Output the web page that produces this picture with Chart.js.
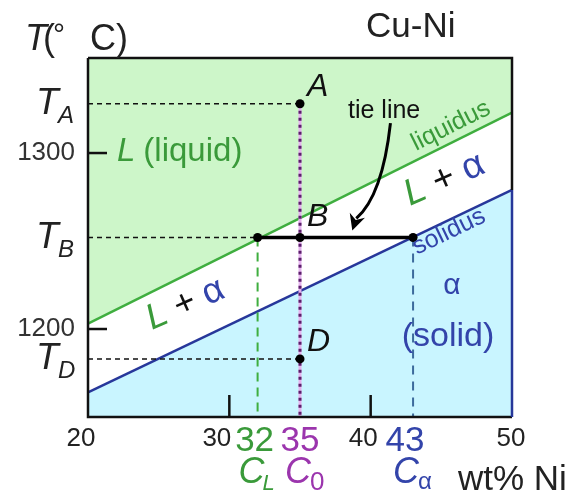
<!DOCTYPE html>
<html>
<head>
<meta charset="utf-8">
<script src="https://cdn.jsdelivr.net/npm/chart.js@4.4.1/dist/chart.umd.min.js"></script>
<style>
  html, body { margin: 0; padding: 0; background: #fff; }
  #wrap { width: 584px; height: 498px; }
</style>
</head>
<body>
<div id="wrap"><canvas id="phase"></canvas></div>
<script>
// DATA
const compRange = [20, 50];           // wt% Ni at the frame edges
const liquidusT = [1203, 1323];       // liquidus temperature at 20 and 50 wt% Ni
const solidusT = [1164, 1279];        // solidus temperature at 20 and 50 wt% Ni
const tempRange = [1150, 1354];
const tempTicks = [1200, 1300];
const compTicks = [20, 30, 40, 50];
const stateNames = ['A', 'B', 'D'];
const stateTemps = [1328, 1252, 1183]; // T_A, T_B, T_D
const alloyComp = 35;                  // C0
const liquidComp = 32;                 // CL
const solidComp = 43;                  // C alpha

const FONT = '"Liberation Sans", Arial, Helvetica, sans-serif';
const GREEN = '#3fae3f';
const GREEN_TXT = '#3a9a3a';
const BLUE = '#27379a';
const BLUE_TXT = '#3344aa';
const PURPLE = '#9b35ad';
const TB = stateTemps[1];

function seg(x0, y0, x1, y1) { return [{ x: x0, y: y0 }, { x: x1, y: y1 }]; }

const datasets = [
  // phase fields
  { label: 'liquidus', data: seg(compRange[0], liquidusT[0], compRange[1], liquidusT[1]),
    borderColor: GREEN, borderWidth: 2.5, fill: 'end', backgroundColor: '#cdf6c9', order: 20 },
  { label: 'solidus', data: seg(compRange[0], solidusT[0], compRange[1], solidusT[1]),
    borderColor: BLUE, borderWidth: 2.5, fill: 'start', backgroundColor: '#c9f5ff', order: 19 },
  // guide lines
  { label: 'TA', data: seg(compRange[0], stateTemps[0], alloyComp, stateTemps[0]),
    borderColor: '#111', borderWidth: 1.5, borderDash: [5, 4], order: 10 },
  { label: 'TB', data: seg(compRange[0], TB, liquidComp, TB),
    borderColor: '#111', borderWidth: 1.5, borderDash: [5, 4], order: 10 },
  { label: 'TD', data: seg(compRange[0], stateTemps[2], alloyComp, stateTemps[2]),
    borderColor: '#111', borderWidth: 1.5, borderDash: [5, 4], order: 10 },
  { label: 'C0 light', data: seg(alloyComp, stateTemps[0], alloyComp, tempRange[0]),
    borderColor: '#e6b3ef', borderWidth: 3, order: 9 },
  { label: 'C0', data: seg(alloyComp, stateTemps[0], alloyComp, tempRange[0]),
    borderColor: '#5b1f6b', borderWidth: 3, borderDash: [3, 4], order: 8 },
  { label: 'CL', data: seg(liquidComp, TB, liquidComp, tempRange[0]),
    borderColor: GREEN, borderWidth: 2, borderDash: [9, 6], order: 8 },
  { label: 'Calpha', data: seg(solidComp, TB, solidComp, tempRange[0]),
    borderColor: '#3c6a9c', borderWidth: 2, borderDash: [9, 7], order: 8 },
  // tie line
  { label: 'tie', data: seg(liquidComp, TB, solidComp, TB),
    borderColor: '#000', borderWidth: 3.5, order: 5 },
  // state points
  { label: 'points', showLine: false,
    data: [{ x: alloyComp, y: stateTemps[0] }, { x: alloyComp, y: TB }, { x: alloyComp, y: stateTemps[2] },
           { x: liquidComp, y: TB }, { x: solidComp, y: TB }],
    pointRadius: 4.5, pointBackgroundColor: '#000', pointBorderWidth: 0, order: 1 }
];
datasets.forEach(d => {
  if (d.showLine === undefined) d.showLine = true;
  if (d.pointRadius === undefined) d.pointRadius = 0;
  if (d.fill === undefined) d.fill = false;
});

function txt(ctx, s, x, y, size, color, opts = {}) {
  ctx.save();
  ctx.font = (opts.italic ? 'italic ' : '') + size + 'px ' + FONT;
  ctx.fillStyle = color;
  ctx.textAlign = opts.align || 'left';
  ctx.textBaseline = 'alphabetic';
  ctx.fillText(s, x, y);
  const w = ctx.measureText(s).width;
  ctx.restore();
  return w;
}

const decor = {
  id: 'decor',
  afterDatasetsDraw(chart) {
    const ctx = chart.ctx;
    const xs = chart.scales.x, ys = chart.scales.y;
    const a = chart.chartArea;
    const px = v => xs.getPixelForValue(v);
    const py = v => ys.getPixelForValue(v);

    // frame
    ctx.save();
    ctx.lineWidth = 2.5;
    ctx.strokeStyle = '#111';
    ctx.beginPath();
    ctx.moveTo(a.left, a.top); ctx.lineTo(a.right, a.top);
    ctx.lineTo(a.right, py(solidusT[1]));
    ctx.moveTo(a.left, a.top); ctx.lineTo(a.left, a.bottom); ctx.lineTo(a.right, a.bottom);
    ctx.stroke();
    ctx.strokeStyle = BLUE;
    ctx.beginPath();
    ctx.moveTo(a.right, py(solidusT[1])); ctx.lineTo(a.right, a.bottom);
    ctx.stroke();

    // inward tick marks
    ctx.strokeStyle = '#111';
    ctx.lineWidth = 2.5;
    tempTicks.forEach(t => {
      ctx.beginPath(); ctx.moveTo(a.left, py(t)); ctx.lineTo(a.left + 19, py(t)); ctx.stroke();
    });
    compTicks.slice(1, -1).forEach(c => {
      ctx.beginPath(); ctx.moveTo(px(c), a.bottom); ctx.lineTo(px(c), a.bottom - 22); ctx.stroke();
    });
    ctx.restore();

    // T_A, T_B, T_D on the temperature axis
    stateNames.forEach((n, i) => {
      const y = py(stateTemps[i]);
      txt(ctx, 'T', 36, y + 10, 37, '#222', { italic: true });
      txt(ctx, n, 58, y + 19, 24, '#222', { italic: true });
    });

    // composition labels
    const bx = a.bottom + 29;
    txt(ctx, '20', px(20) - 7, bx, 26, '#222', { align: 'center' });
    txt(ctx, '30', px(30) + 2, bx, 26, '#222', { align: 'right' });
    txt(ctx, '40', px(40) + 7, bx, 26, '#222', { align: 'right' });
    txt(ctx, '50', px(50) - 1, bx, 26, '#222', { align: 'center' });
    txt(ctx, String(liquidComp), px(liquidComp) - 3, a.bottom + 34, 35, GREEN_TXT, { align: 'center' });
    txt(ctx, String(alloyComp), px(alloyComp), a.bottom + 34, 35, PURPLE, { align: 'center' });
    txt(ctx, String(solidComp), px(solidComp) - 8, a.bottom + 34, 35, BLUE_TXT, { align: 'center' });

    const cy = a.bottom + 66;
    let w = txt(ctx, 'C', px(liquidComp) - 19, cy, 36, GREEN_TXT, { italic: true });
    txt(ctx, 'L', px(liquidComp) - 19 + w - 2, cy + 7, 22, GREEN_TXT, { italic: true });
    w = txt(ctx, 'C', px(alloyComp) - 15, cy, 36, PURPLE, { italic: true });
    txt(ctx, '0', px(alloyComp) - 15 + w - 1, cy + 7, 26, PURPLE);
    w = txt(ctx, 'C', px(solidComp) - 20, cy, 36, BLUE_TXT, { italic: true });
    txt(ctx, 'α', px(solidComp) - 20 + w - 1, cy + 6, 24, BLUE_TXT);
    txt(ctx, 'wt% Ni', 458, 490, 35, '#222');

    // header texts
    txt(ctx, 'T', 25, 50, 36, '#222', { italic: true });
    txt(ctx, '(', 43, 50, 36, '#222');
    txt(ctx, '°', 53, 44, 30, '#222');
    txt(ctx, 'C)', 90, 50, 36, '#222');
    txt(ctx, 'Cu-Ni', 366, 37, 35, '#222');

    // state letters
    stateNames.forEach((n, i) => {
      txt(ctx, n, px(alloyComp) + 7, py(stateTemps[i]) - (i === 1 ? 12 : 8), 32, '#111', { italic: true });
    });

    // phase field labels
    w = txt(ctx, 'L', 117, 161, 33, GREEN_TXT, { italic: true });
    txt(ctx, '(liquid)', 117 + w + 8, 161, 33, GREEN_TXT);

    const ang = Math.atan2(py(liquidusT[1]) - py(liquidusT[0]), px(compRange[1]) - px(compRange[0]));
    const angS = Math.atan2(py(solidusT[1]) - py(solidusT[0]), px(compRange[1]) - px(compRange[0]));
    const rot = (x, y, angle, fn) => { ctx.save(); ctx.translate(x, y); ctx.rotate(angle); fn(); ctx.restore(); };

    rot(454, 132, ang, () => txt(ctx, 'liquidus', 0, 0, 25, GREEN_TXT, { align: 'center' }));
    rot(452, 238, angS, () => txt(ctx, 'solidus', 0, 0, 25, BLUE_TXT, { align: 'center' }));

    const lpa = (x, y, size) => rot(x, y, ang * 0.9, () => {
      let w1 = txt(ctx, 'L', 0, 0, size, GREEN_TXT, { italic: true });
      let w2 = txt(ctx, ' + ', w1, 0, size, '#111');
      txt(ctx, 'α', w1 + w2, 0, size, BLUE_TXT);
    });
    lpa(152, 330, 36);
    lpa(410, 206, 37);

    txt(ctx, 'α', 452, 294, 30, BLUE_TXT, { align: 'center' });
    txt(ctx, '(solid)', 448, 346, 34, BLUE_TXT, { align: 'center' });

    // tie line annotation
    txt(ctx, 'tie line', 348, 118, 25, '#111');
    const s = { x: px(41.4), y: py(1317) }, e = { x: px(38.7), y: py(1256) };
    ctx.save();
    ctx.strokeStyle = '#000';
    ctx.fillStyle = '#000';
    ctx.lineWidth = 3;
    ctx.beginPath();
    ctx.moveTo(s.x, s.y);
    ctx.quadraticCurveTo(s.x - 8, e.y - 35, e.x + 4, e.y - 12);
    ctx.stroke();
    const dir = Math.atan2(12, -4);
    ctx.translate(e.x, e.y);
    ctx.rotate(dir);
    ctx.beginPath();
    ctx.moveTo(0, 0); ctx.lineTo(-16, -8); ctx.lineTo(-11, 0); ctx.lineTo(-16, 8);
    ctx.closePath();
    ctx.fill();
    ctx.restore();
  }
};

new Chart(document.getElementById('phase'), {
  type: 'scatter',
  data: { datasets },
  options: {
    responsive: true,
    maintainAspectRatio: false,
    animation: false,
    layout: { padding: { top: 58, right: 72, left: 0, bottom: 0 } },
    plugins: { legend: { display: false }, tooltip: { enabled: false } },
    scales: {
      x: {
        type: 'linear', min: compRange[0], max: compRange[1],
        afterBuildTicks: s => { s.ticks = compTicks.map(v => ({ value: v })); },
        afterFit: s => { s.height = 81; },
        grid: { display: false, drawTicks: false },
        border: { display: false },
        ticks: { display: false }
      },
      y: {
        type: 'linear', min: tempRange[0], max: tempRange[1],
        afterBuildTicks: s => { s.ticks = tempTicks.map(v => ({ value: v })); },
        afterFit: s => { s.width = 88; },
        grid: { display: false, drawTicks: false },
        border: { display: false },
        ticks: { padding: 13, color: '#333', font: { size: 26, family: FONT }, callback: v => String(v) }
      }
    }
  },
  plugins: [decor]
});
</script>
</body>
</html>
